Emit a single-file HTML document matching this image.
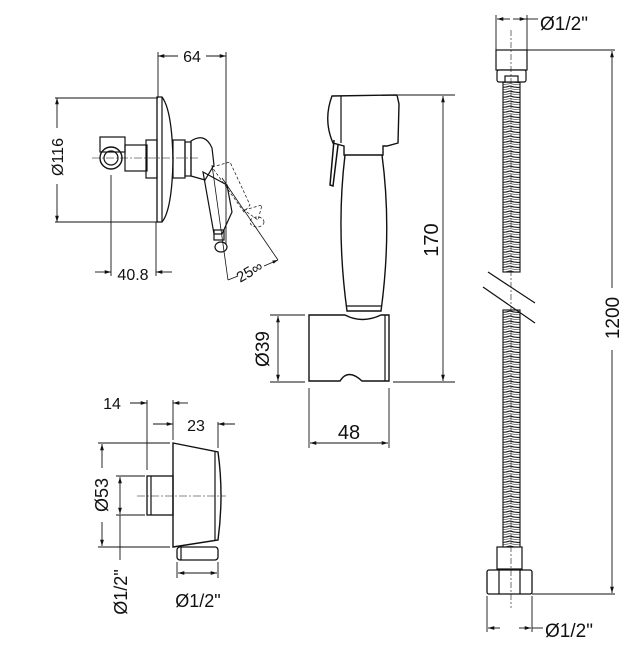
<!DOCTYPE html>
<html><head><style>
html,body{margin:0;padding:0;background:#fff;}
svg{display:block;}
text{font-family:"Liberation Sans",sans-serif;fill:#111;}
</style></head><body>
<svg width="634" height="652" viewBox="0 0 634 652" xmlns="http://www.w3.org/2000/svg">
<defs>
<marker id="a" viewBox="0 0 10 10" refX="10" refY="5" markerWidth="7" markerHeight="7" orient="auto-start-reverse"><path d="M0,2 L10,5 L0,8 z" fill="#111"/></marker>
<pattern id="coil" width="17" height="5" patternUnits="userSpaceOnUse"><path d="M0,1 Q8.5,4 17,1" fill="none" stroke="#222" stroke-width="1.2"/><path d="M0,3.5 Q8.5,6 17,3.5" fill="none" stroke="#666" stroke-width="0.7"/></pattern>
</defs>
<g fill="none" stroke="#111" stroke-width="1.2">
<!-- ===== Mixer (top-left) ===== -->
<line x1="158" y1="52" x2="158" y2="97" stroke-width="0.9"/>
<line x1="226" y1="52" x2="226" y2="245" stroke-width="0.9"/>
<line x1="158" y1="56" x2="178" y2="56" marker-start="url(#a)" stroke-width="0.9"/>
<line x1="206" y1="56" x2="226" y2="56" marker-end="url(#a)" stroke-width="0.9"/>
<line x1="55" y1="98" x2="158" y2="98" stroke-width="0.9"/>
<line x1="55" y1="222" x2="158" y2="222" stroke-width="0.9"/>
<line x1="57" y1="98" x2="57" y2="128" marker-start="url(#a)" stroke-width="0.9"/>
<line x1="57" y1="184" x2="57" y2="222" marker-end="url(#a)" stroke-width="0.9"/>
<line x1="111" y1="175" x2="111" y2="276" stroke-width="0.9"/>
<line x1="156" y1="222" x2="156" y2="276" stroke-width="0.9"/>
<line x1="95" y1="272" x2="111" y2="272" marker-end="url(#a)" stroke-width="0.9"/>
<line x1="172" y1="272" x2="156" y2="272" marker-end="url(#a)" stroke-width="0.9"/>
<!-- plate -->
<path d="M157,97 L162,97 Q172,110 173,160 Q172,210 162,222 L157,222 Z" stroke-width="1.3"/>
<line x1="162" y1="97" x2="162" y2="222"/>
<!-- body left -->
<rect x="100" y="137" width="25" height="15"/>
<circle cx="111" cy="158" r="11" stroke-width="1.4"/>
<circle cx="111" cy="158" r="7"/>
<rect x="125" y="145" width="22" height="26"/>
<rect x="146" y="140" width="11" height="38"/>
<line x1="92" y1="158" x2="200" y2="158" stroke-dasharray="8,2,2,2" stroke-width="0.6"/>
<!-- right side -->
<rect x="173" y="140" width="12" height="38"/>
<rect x="185" y="142" width="6" height="34"/>
<path d="M191,141 Q205,132 212,148 L214,165 L205,180 L191,176 Z" stroke-width="1.2"/>
<path d="M203,172 L227,185 L232,212 L222,234 L214,234 Z"/>
<rect x="214" y="230" width="10" height="10"/>
<ellipse cx="221" cy="247" rx="6" ry="5"/>
<g stroke-dasharray="3,2" stroke-width="0.7">
<path d="M212,167 L230,162 L250,205 L244,212 Z"/>
<path d="M244,210 L262,205 L258,220 Z"/>
<ellipse cx="257" cy="222" rx="7" ry="5"/>
</g>
<line x1="212" y1="165" x2="228" y2="280" stroke-width="0.8"/>
<line x1="222" y1="178" x2="278" y2="260" stroke-width="0.8"/>
<line x1="228" y1="280" x2="238" y2="276" stroke-width="0.8"/>
<line x1="264" y1="266" x2="278" y2="260" marker-end="url(#a)" stroke-width="0.8"/>

<!-- ===== Handshower ===== -->
<path d="M332,96 L397,95 L399,104 L398,143 L387,146 L383,146 L383,155 L344,155 L344,146 L333,143 Q323,120 332,96 Z" stroke-width="1.4"/>
<line x1="341" y1="96" x2="341" y2="143"/>
<path d="M334,140 L330,185 L333,186 L338,145" stroke-width="1.5"/>
<path d="M345,155 Q336,230 347,311 L381,311 Q392,230 382,155" stroke-width="1.4"/>
<line x1="347" y1="306" x2="381" y2="306"/>
<path d="M309,315 L345,315 Q362,324 381,315 L389,315 L389,381 L362,381 Q348,368 340,381 L309,381 Z" stroke-width="1.4"/>
<line x1="385" y1="315" x2="385" y2="381"/>
<line x1="398" y1="95" x2="455" y2="95" stroke-width="0.9"/>
<line x1="393" y1="382" x2="455" y2="382" stroke-width="0.9"/>
<line x1="443" y1="96" x2="443" y2="381" marker-start="url(#a)" marker-end="url(#a)" stroke-width="0.9"/>
<line x1="270" y1="315" x2="305" y2="315" stroke-width="0.9"/>
<line x1="270" y1="382" x2="305" y2="382" stroke-width="0.9"/>
<line x1="278" y1="316" x2="278" y2="381" marker-start="url(#a)" marker-end="url(#a)" stroke-width="0.9"/>
<line x1="309" y1="388" x2="309" y2="448" stroke-width="0.9"/>
<line x1="389" y1="388" x2="389" y2="448" stroke-width="0.9"/>
<line x1="310" y1="443" x2="388" y2="443" marker-start="url(#a)" marker-end="url(#a)" stroke-width="0.9"/>

<!-- ===== Wall outlet ===== -->
<path d="M173,443 L218,452 Q224,495 218,540 L173,547 Z" stroke-width="1.4"/>
<line x1="215" y1="452" x2="215" y2="540"/>
<rect x="147" y="476" width="26" height="39" stroke-width="1.3"/>
<line x1="151" y1="476" x2="151" y2="515"/>
<rect x="177" y="547" width="41" height="13" rx="3" stroke-width="1.3"/>
<line x1="181" y1="547" x2="181" y2="560"/>
<line x1="137" y1="496" x2="226" y2="496" stroke-dasharray="8,2,2,2" stroke-width="0.6"/>
<line x1="147" y1="400" x2="147" y2="470" stroke-width="0.9"/>
<line x1="173" y1="400" x2="173" y2="440" stroke-width="0.9"/>
<line x1="218" y1="422" x2="218" y2="448" stroke-width="0.9"/>
<line x1="130" y1="403" x2="147" y2="403" marker-end="url(#a)" stroke-width="0.9"/>
<line x1="188" y1="403" x2="173" y2="403" marker-end="url(#a)" stroke-width="0.9"/>
<line x1="153" y1="424" x2="173" y2="424" marker-end="url(#a)" stroke-width="0.9"/>
<line x1="235" y1="424" x2="218" y2="424" marker-end="url(#a)" stroke-width="0.9"/>
<line x1="98" y1="443" x2="170" y2="443" stroke-width="0.9"/>
<line x1="98" y1="547" x2="170" y2="547" stroke-width="0.9"/>
<line x1="102" y1="444" x2="102" y2="468" marker-start="url(#a)" stroke-width="0.9"/>
<line x1="102" y1="522" x2="102" y2="546" marker-end="url(#a)" stroke-width="0.9"/>
<line x1="116" y1="476" x2="145" y2="476" stroke-width="0.9"/>
<line x1="116" y1="515" x2="145" y2="515" stroke-width="0.9"/>
<line x1="120" y1="477" x2="120" y2="514" marker-start="url(#a)" marker-end="url(#a)" stroke-width="0.9"/>
<line x1="120" y1="515" x2="120" y2="560" stroke-width="0.9"/>
<line x1="177" y1="562" x2="177" y2="578" stroke-width="0.9"/>
<line x1="218" y1="562" x2="218" y2="578" stroke-width="0.9"/>
<line x1="178" y1="573" x2="217" y2="573" marker-start="url(#a)" marker-end="url(#a)" stroke-width="0.9"/>

<!-- ===== Hose ===== -->
<rect x="503" y="82" width="17" height="190" fill="url(#coil)" stroke="#222"/>
<rect x="503" y="310" width="17" height="238" fill="url(#coil)" stroke="#222"/>
<rect x="496" y="50" width="31" height="20" fill="#fff"/>
<rect x="497" y="70" width="29" height="12" rx="2" fill="#fff"/>
<rect x="505" y="76" width="13" height="6" fill="#fff"/>
<rect x="497" y="547" width="25" height="22" fill="#fff"/>
<rect x="487" y="570" width="45" height="24" rx="2" fill="#fff" stroke-width="1.3"/>
<line x1="499" y1="570" x2="499" y2="594"/>
<line x1="520" y1="570" x2="520" y2="594"/>
<line x1="511" y1="30" x2="511" y2="608" stroke-dasharray="6,2,2,2" stroke-width="0.6"/>
<line x1="488" y1="272" x2="535" y2="303"/>
<line x1="483" y1="287" x2="535" y2="323"/>
<line x1="496" y1="15" x2="496" y2="50" stroke-width="0.9"/>
<line x1="527" y1="15" x2="527" y2="50" stroke-width="0.9"/>
<line x1="497" y1="19" x2="510" y2="19" marker-start="url(#a)" stroke-width="0.9"/>
<line x1="513" y1="19" x2="526" y2="19" marker-end="url(#a)" stroke-width="0.9"/>
<line x1="526" y1="19" x2="538" y2="19" stroke-width="0.9"/>
<line x1="527" y1="50" x2="615" y2="50" stroke-width="0.9"/>
<line x1="532" y1="594" x2="615" y2="594" stroke-width="0.9"/>
<line x1="612" y1="51" x2="612" y2="288" marker-start="url(#a)" stroke-width="0.9"/>
<line x1="612" y1="350" x2="612" y2="593" marker-end="url(#a)" stroke-width="0.9"/>
<line x1="487" y1="596" x2="487" y2="632" stroke-width="0.9"/>
<line x1="532" y1="596" x2="532" y2="632" stroke-width="0.9"/>
<line x1="488" y1="628" x2="500" y2="628" marker-start="url(#a)" stroke-width="0.9"/>
<line x1="519" y1="628" x2="531" y2="628" marker-end="url(#a)" stroke-width="0.9"/>
<line x1="532" y1="628" x2="543" y2="628" stroke-width="0.9"/>
</g>

<!-- text -->
<g font-size="16">
<text x="192" y="62" text-anchor="middle">64</text>
<text transform="translate(63,157) rotate(-90)" text-anchor="middle">Ø116</text>
<text x="133" y="280" text-anchor="middle">40.8</text>
<text transform="translate(252,276) rotate(-30)" text-anchor="middle" font-size="15">25∞</text>
<text transform="translate(438,240) rotate(-90)" text-anchor="middle" font-size="20">170</text>
<text transform="translate(269,349) rotate(-90)" text-anchor="middle" font-size="19">Ø39</text>
<text x="349" y="439" text-anchor="middle" font-size="20">48</text>
<text x="112" y="409" text-anchor="middle">14</text>
<text x="196" y="431" text-anchor="middle">23</text>
<text transform="translate(108,495) rotate(-90)" text-anchor="middle" font-size="18">Ø53</text>
<text transform="translate(127,592) rotate(-90)" text-anchor="middle" font-size="18">Ø1/2"</text>
<text x="198" y="607" text-anchor="middle" font-size="18">Ø1/2"</text>
<text x="540" y="30" font-size="19">Ø1/2"</text>
<text transform="translate(619,318) rotate(-90)" text-anchor="middle" font-size="19">1200</text>
<text x="545" y="637" font-size="19">Ø1/2"</text>
</g>
</svg>
</body></html>
